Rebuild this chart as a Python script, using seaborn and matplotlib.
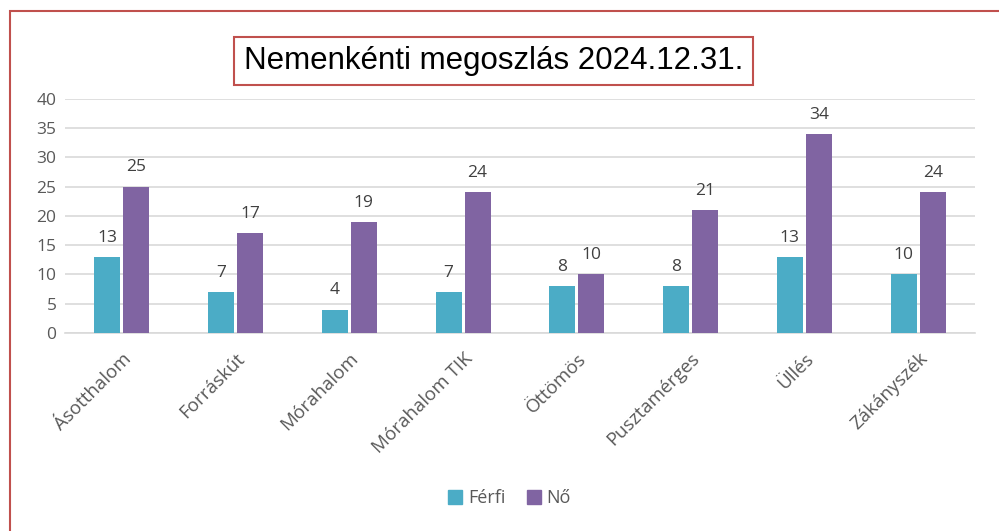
import matplotlib.pyplot as plt
import matplotlib.patches as mpatches
import seaborn as sns
import pandas as pd

# --- adatok ---
telepulesek = ['Ásotthalom', 'Forráskút', 'Mórahalom', 'Mórahalom TIK',
               'Öttömös', 'Pusztamérges', 'Üllés', 'Zákányszék']
ferfi = [13, 7, 4, 7, 8, 8, 13, 10]
no = [25, 17, 19, 24, 10, 21, 34, 24]
nemek = ['Férfi', 'Nő']
y_ticks = [0, 5, 10, 15, 20, 25, 30, 35, 40]

df = pd.DataFrame({
    'Település': telepulesek * 2,
    'Nem': [nemek[0]] * len(telepulesek) + [nemek[1]] * len(telepulesek),
    'Fő': ferfi + no,
})

sns.set_style("white")
plt.rcParams['font.family'] = ['Open Sans', 'DejaVu Sans']

fig = plt.figure(figsize=(9.99, 5.31), dpi=100)
ax = fig.add_axes([0.065, 0.373, 0.911, 0.441])

# keret (piros vonal a bal és felső szélen)
fig.patches.append(mpatches.Rectangle((0.010, -0.1), 1.2, 1.08, transform=fig.transFigure,
                                      fill=False, edgecolor='#C0504D', linewidth=1.5))

sns.barplot(data=df, x='Település', y='Fő', hue='Nem',
            palette={'Férfi': '#4BACC6', 'Nő': '#8064A2'}, saturation=1,
            width=0.51, gap=0.1, linewidth=0, ax=ax, legend=False, zorder=3)

for cont in ax.containers:
    ax.bar_label(cont, padding=8, fontsize=12.5, color='#404040')

ax.set_ylim(0, 40)
ax.set_yticks(y_ticks)
ax.yaxis.grid(True, color='#D9D9D9', linewidth=1.2, zorder=0)
ax.set_axisbelow(True)
ax.set_xlabel('')
ax.set_ylabel('')
sns.despine(ax=ax, left=True)
ax.spines['bottom'].set_color('#D9D9D9')
ax.spines['bottom'].set_linewidth(1.2)
ax.tick_params(axis='both', length=0, labelsize=12.5, colors='#595959', pad=6)
ax.tick_params(axis='x', labelsize=13.5, pad=12)
plt.setp(ax.get_xticklabels(), rotation=45, ha='right', rotation_mode='anchor')

# cím kerettel
fig.text(0.494, 0.885, 'Nemenkénti megoszlás 2024.12.31.', ha='center', va='center',
         fontsize=22.5, color='black', family=['Liberation Sans Narrow', 'Liberation Sans', 'DejaVu Sans'],
         bbox=dict(boxstyle='square,pad=0.3', facecolor='white', edgecolor='#C0504D', linewidth=1.5))

handles = [mpatches.Patch(color='#4BACC6', label='Férfi'),
           mpatches.Patch(color='#8064A2', label='Nő')]
fig.legend(handles=handles, loc='center', bbox_to_anchor=(0.51, 0.062), ncol=2, frameon=False,
           fontsize=13, handlelength=0.8, handleheight=0.8, handletextpad=0.3, columnspacing=1.2,
           labelcolor='#595959')

fig.savefig('out.png', dpi=100)
